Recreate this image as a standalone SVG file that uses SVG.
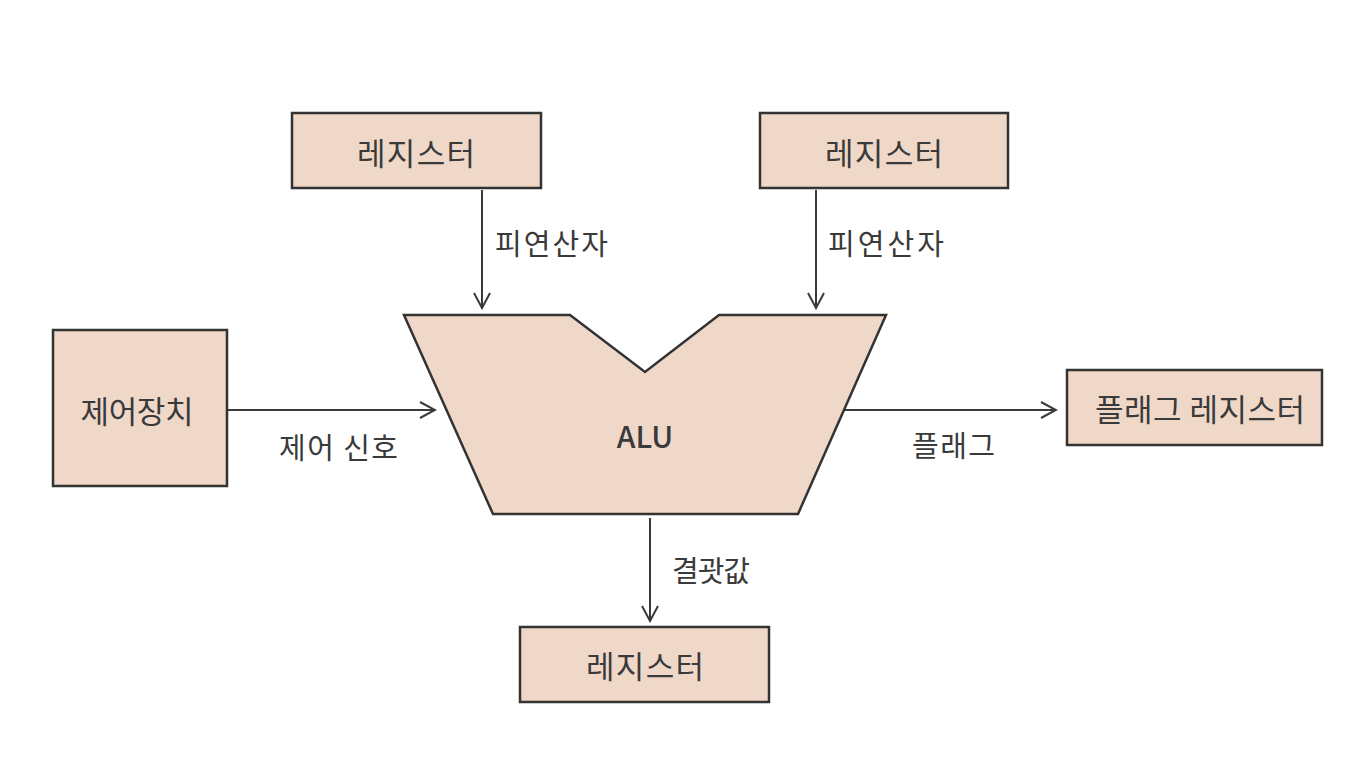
<svg xmlns="http://www.w3.org/2000/svg" width="1364" height="760" viewBox="0 0 1364 760">
<style>
.box{fill:#f0d8c9;stroke:#333;stroke-width:2.5}
.t{font-family:"Noto Sans CJK KR","Noto Sans",sans-serif;fill:#3a3a3a;text-anchor:middle;dominant-baseline:central}
.n{font-size:31px}
.l{font-size:29px;text-anchor:start}
.c{stroke:#3a3a3a;stroke-width:2;fill:none;marker-end:url(#ah)}
</style>
<defs>
<marker id="ah" viewBox="0 0 20 20" refX="18" refY="10" markerWidth="20" markerHeight="20" markerUnits="userSpaceOnUse" orient="auto">
<path d="M3,2 L18,10 L3,18" fill="none" stroke="#3a3a3a" stroke-width="2"/>
</marker>
</defs>
<rect width="1364" height="760" fill="#fff"/>
<g id="connectors">
<line class="c" x1="482" y1="190" x2="482" y2="308"/>
<text class="t l" x="495" y="242" textLength="113" lengthAdjust="spacing">피연산자</text>
<line class="c" x1="816" y1="190" x2="816" y2="308"/>
<text class="t l" x="828" y="242" textLength="116" lengthAdjust="spacing">피연산자</text>
<line class="c" x1="228" y1="410" x2="435" y2="410"/>
<text class="t l" x="279" y="446" textLength="119" lengthAdjust="spacing">제어 신호</text>
<line class="c" x1="845" y1="410" x2="1056" y2="410"/>
<text class="t l" x="912" y="444" textLength="83" lengthAdjust="spacing">플래그</text>
<line class="c" x1="650" y1="518" x2="650" y2="621"/>
<text class="t l" x="672" y="569" textLength="78" lengthAdjust="spacing">결괏값</text>
</g>
<g id="reg-top-left">
<rect class="box" x="292" y="113" width="249" height="75"/>
<text class="t n" x="416" y="151" textLength="118" lengthAdjust="spacing">레지스터</text>
</g>
<g id="reg-top-right">
<rect class="box" x="760" y="113" width="248" height="75"/>
<text class="t n" x="884" y="151" textLength="118" lengthAdjust="spacing">레지스터</text>
</g>
<g id="alu">
<polygon class="box" points="404,315 570,315 645,372 719,315 886,315 798,514 493,514"/>
<text class="t" x="645" y="435" font-size="30" font-weight="500">ALU</text>
</g>
<g id="control-unit">
<rect class="box" x="53" y="330" width="174" height="156"/>
<text class="t n" x="137" y="409" textLength="113" lengthAdjust="spacing">제어장치</text>
</g>
<g id="flag-register">
<rect class="box" x="1067" y="370" width="255" height="75"/>
<text class="t n" x="1200" y="407" textLength="210" lengthAdjust="spacing">플래그 레지스터</text>
</g>
<g id="reg-bottom">
<rect class="box" x="520" y="627" width="249" height="75"/>
<text class="t n" x="645" y="664" textLength="118" lengthAdjust="spacing">레지스터</text>
</g>
</svg>
